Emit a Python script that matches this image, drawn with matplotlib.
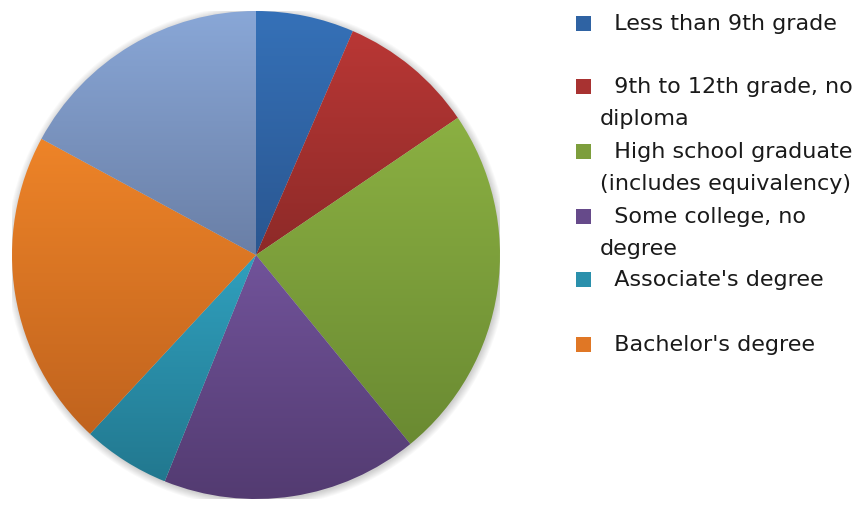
import numpy as np
import matplotlib
matplotlib.use("Agg")
import matplotlib.pyplot as plt
from matplotlib.colors import to_rgb
from matplotlib.patches import Rectangle, Circle

# Shares of each education level (percent)
labels = [
    "Less than 9th grade",
    "9th to 12th grade, no\ndiploma",
    "High school graduate\n(includes equivalency)",
    "Some college, no\ndegree",
    "Associate's degree",
    "Bachelor's degree",
    "Graduate or professional degree",
]
shares = [6.5, 9.0, 23.6, 17.0, 5.8, 21.0, 17.1]

# top / bottom colours of each slice's gradient
top_colors = ["#3571b8", "#b93735", "#8bb042", "#71539a", "#30a0be", "#ee8428", "#89a7d7"]
bottom_colors = ["#2a5690", "#8d2a28", "#6a8a32", "#533b71", "#22788f", "#c0631e", "#6a7fa6"]
legend_colors = ["#2f63a3", "#a83231", "#7d9e3c", "#664a8a", "#2a90ac", "#e07725"]

W, H = 867, 508
fig = plt.figure(figsize=(W / 100, H / 100), dpi=100)

# pie axes: centre (256, 255) px from top-left, radius 244 px
cx, cy, r = 256, 255, 244
ax = fig.add_axes([(cx - r) / W, (H - cy - r) / H, 2 * r / W, 2 * r / H])
ax.axis("off")

# soft shadow round the pie
for k in range(8):
    ax.add_patch(Circle((0.004, -0.006), 1.0 + k * 0.004, color="black",
                        alpha=0.025, lw=0, zorder=0))

wedges, _ = ax.pie(shares, startangle=90, counterclock=False, radius=1,
                   colors=top_colors, wedgeprops=dict(linewidth=0))

# vertical gradient inside each slice
for w, c1, c2 in zip(wedges, top_colors, bottom_colors):
    th = np.radians(np.linspace(w.theta1, w.theta2, 200))
    ys = np.concatenate([[0], np.sin(th)])
    xs = np.concatenate([[0], np.cos(th)])
    t = np.linspace(0, 1, 256)[:, None]
    grad = (1 - t) * np.array(to_rgb(c1)) + t * np.array(to_rgb(c2))
    img = ax.imshow(grad[:, None, :].repeat(2, axis=1),
                    extent=(xs.min(), xs.max(), ys.min(), ys.max()),
                    origin="upper", aspect="auto", zorder=2, interpolation="bilinear")
    img.set_clip_path(w)
    w.set_facecolor("none")

ax.set_xlim(-1, 1)
ax.set_ylim(-1, 1)

# legend, drawn by hand (the last entry is cut off in the original)
item_y = [24, 87, 152, 217, 280, 345]
for y, lab, col in zip(item_y, labels[:6], legend_colors):
    fig.patches.append(Rectangle((576 / W, (H - y - 7) / H), 15 / W, 15 / H,
                                 transform=fig.transFigure, facecolor=col,
                                 edgecolor="none"))
    lines = lab.split("\n")
    txt = "  " + lines[0] + ("\n" + lines[1] if len(lines) > 1 else "")
    fig.text(600 / W, (H - y + 10) / H, txt, ha="left", va="top",
             fontsize=16, family="DejaVu Sans", color="#1a1a1a",
             linespacing=1.75, transform=fig.transFigure)

fig.savefig("out.png", dpi=100)
